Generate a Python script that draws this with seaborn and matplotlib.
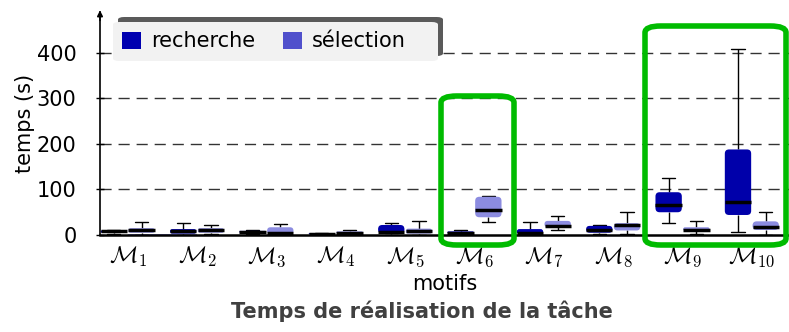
import matplotlib
matplotlib.use("Agg")
import matplotlib.pyplot as plt
from matplotlib.patches import Patch, FancyBboxPatch
import seaborn as sns
import pandas as pd

# five-number summaries (whisker low, q1, median, q3, whisker high)
motifs = [r"$\mathcal{M}_{\mathsf{%d}}$" % i for i in range(1, 11)]
series = ["recherche", "sélection"]

rech_lo  = [2, 1, 2, 1, 1, 1, 1, 2, 26, 6]
rech_q1  = [5, 3, 5, 2, 3, 3, 2, 5, 50, 44]
rech_med = [8, 8, 7, 3, 6, 5, 4, 11, 66, 73]
rech_q3  = [10, 13, 9, 4, 22, 8, 13, 20, 94, 188]
rech_hi  = [12, 26, 10, 5, 26, 12, 28, 22, 126, 408]

sel_lo  = [1, 2, 1, 1, 1, 28, 11, 3, 3, 1]
sel_q1  = [5, 5, 2, 3, 3, 39, 17, 10, 9, 11]
sel_med = [11, 11, 5, 5, 8, 56, 20, 22, 12, 18]
sel_q3  = [15, 15, 17, 8, 14, 84, 31, 26, 17, 30]
sel_hi  = [28, 23, 24, 11, 30, 86, 42, 51, 31, 50]

box_colors = {"recherche": "#0000AA", "sélection": "#8C8CE0"}
legend_colors = {"recherche": "#0000B0", "sélection": "#5050CC"}

# five points per box -> quartiles land exactly on the read values
rows = []
for name, stats in [("recherche", [rech_lo, rech_q1, rech_med, rech_q3, rech_hi]),
                    ("sélection", [sel_lo, sel_q1, sel_med, sel_q3, sel_hi])]:
    for i, m in enumerate(motifs):
        for s in stats:
            rows.append({"motif": m, "tache": name, "temps": s[i]})
df = pd.DataFrame(rows)

sns.set_style("white")
plt.rcParams["font.family"] = ["DejaVu Sans"]
plt.rcParams["mathtext.fontset"] = "cm"
plt.rcParams["text.color"] = "black"
plt.rcParams["axes.labelcolor"] = "black"
plt.rcParams["xtick.color"] = "black"
plt.rcParams["ytick.color"] = "black"

fig = plt.figure(figsize=(7.89, 3.32), dpi=100)
ax = fig.add_axes([100 / 789, 1 - 235 / 332, 690 / 789, 223 / 332])

sns.boxplot(data=df, x="motif", y="temps", hue="tache", order=motifs, hue_order=series,
            palette=box_colors, saturation=1, whis=(0, 100), width=0.8, gap=0.05,
            linecolor="black", linewidth=1, boxprops=dict(linewidth=0),
            medianprops=dict(color="black", linewidth=2.5),
            whiskerprops=dict(color="black", linewidth=1),
            capprops=dict(color="black", linewidth=1), ax=ax)

ax.set_xlim(-0.4, 9.55)
ax.set_ylim(0, 490)

# swap the square boxes for rounded ones
px_x = 690 / 9.95
px_y = 223 / 490
aspect = px_x / px_y
for p in list(ax.patches):
    bb = p.get_path().get_extents()
    w, h = bb.width, bb.height
    rs = min(0.06, w / 2, h / aspect / 2)
    rb = FancyBboxPatch((bb.x0, bb.y0), w, h, boxstyle=f"round,pad=0,rounding_size={rs}",
                        mutation_aspect=aspect, facecolor=p.get_facecolor(),
                        edgecolor="none", zorder=p.get_zorder())
    p.remove()
    ax.add_patch(rb)

ax.set_yticks([0, 100, 200, 300, 400])
for v in [100, 200, 300, 400]:
    ax.axhline(v, color="#333333", lw=1, dashes=(8, 5), zorder=0)

sns.despine(ax=ax, top=True, right=True)
ax.spines["left"].set_linewidth(1.2)
ax.spines["bottom"].set_linewidth(1.8)
ax.spines["left"].set_color("black")
ax.spines["bottom"].set_color("black")
ax.annotate("", xy=(0, 1.02), xytext=(0, 0.95), xycoords="axes fraction",
            arrowprops=dict(arrowstyle="-|>", color="black", lw=1.2, mutation_scale=8))

ax.tick_params(axis="y", left=True, length=6, width=1, labelsize=15, direction="inout", pad=14)
ax.tick_params(axis="x", bottom=False, labelsize=17, pad=4)
ax.set_ylabel("temps (s)", fontsize=15, labelpad=1)
ax.set_xlabel("motifs", fontsize=15, labelpad=3)

# legend: shadow + light rounded panel drawn behind a frameless legend
fig.patches.append(FancyBboxPatch((118 / 789, 1 - 56 / 332), 325 / 789, 39 / 332,
                                  boxstyle="round,pad=0,rounding_size=0.008",
                                  transform=fig.transFigure, facecolor="#5A5A5A",
                                  edgecolor="none", zorder=3))
fig.patches.append(FancyBboxPatch((113 / 789, 1 - 61 / 332), 325 / 789, 39 / 332,
                                  boxstyle="round,pad=0,rounding_size=0.008",
                                  transform=fig.transFigure, facecolor="#F2F2F2",
                                  edgecolor="none", zorder=4))
ax.get_legend().remove()
handles = [Patch(facecolor=legend_colors[s], edgecolor="none", label=s) for s in series]
fig.legend(handles=handles, loc="upper left", bbox_to_anchor=(113 / 789, 1 - 22 / 332),
           ncol=2, fontsize=15, frameon=False, borderaxespad=0,
           handlelength=0.9, handleheight=0.9, handletextpad=0.5, columnspacing=1.3,
           borderpad=0.45)

# green highlight frames
for x0, y0, x1, y1 in [(441, 96, 514, 245), (645, 26, 786, 245)]:
    fig.patches.append(FancyBboxPatch((x0 / 789, 1 - y1 / 332), (x1 - x0) / 789, (y1 - y0) / 332,
                                      boxstyle="round,pad=0,rounding_size=0.02",
                                      transform=fig.transFigure, fill=False,
                                      edgecolor="#00BB00", linewidth=4, zorder=10))

fig.text(422 / 789, 1 - 311 / 332, "Temps de réalisation de la tâche",
         ha="center", va="center", fontsize=15, fontweight="bold", color="#404040")

fig.savefig("out.png", dpi=100)
